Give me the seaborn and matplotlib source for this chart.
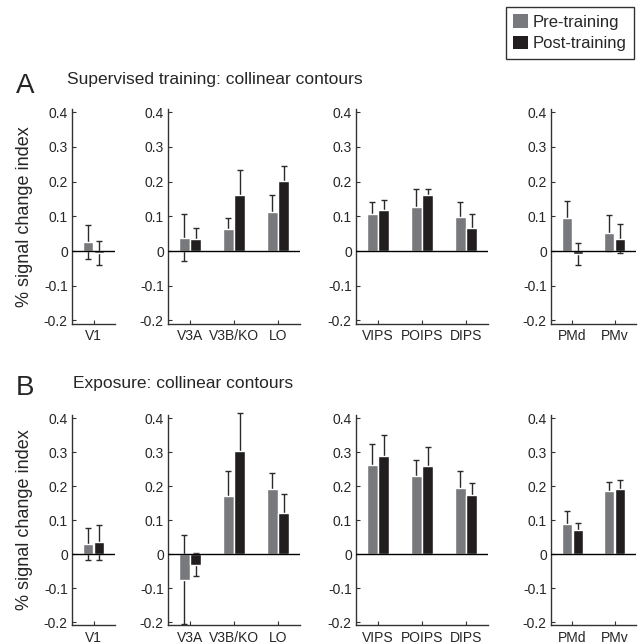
import matplotlib
matplotlib.use('Agg')
import matplotlib.pyplot as plt
from matplotlib.patches import Patch
import pandas as pd
import seaborn as sns


# ==========================================
# DATOS
# ==========================================

rois = ['V1', 'V3A', 'V3B/KO', 'LO', 'VIPS', 'POIPS', 'DIPS', 'PMd', 'PMv']
panel_rois = [['V1'], ['V3A', 'V3B/KO', 'LO'], ['VIPS', 'POIPS', 'DIPS'], ['PMd', 'PMv']]
phases = ['Pre-training', 'Post-training']

sup_pre = [0.027, 0.038, 0.063, 0.111, 0.107, 0.128, 0.098, 0.094, 0.052]
sup_post = [-0.006, 0.036, 0.162, 0.201, 0.117, 0.161, 0.065, -0.008, 0.036]
sup_pre_err = [0.049, 0.068, 0.033, 0.050, 0.035, 0.051, 0.044, 0.050, 0.051]
sup_post_err = [0.034, 0.031, 0.071, 0.045, 0.030, 0.018, 0.041, 0.032, 0.043]

exp_pre = [0.030, -0.075, 0.172, 0.190, 0.262, 0.228, 0.194, 0.089, 0.184]
exp_post = [0.034, -0.031, 0.304, 0.120, 0.289, 0.258, 0.173, 0.070, 0.190]
exp_pre_err = [0.047, 0.131, 0.072, 0.047, 0.063, 0.048, 0.051, 0.037, 0.029]
exp_post_err = [0.051, 0.034, 0.110, 0.056, 0.062, 0.058, 0.037, 0.022, 0.029]

ytick_values = [-0.2, -0.1, 0, 0.1, 0.2, 0.3, 0.4]
ytick_labels = ['-0.2', '-0.1', '0', '0.1', '0.2', '0.3', '0.4']

row_letters = ['A', 'B']
row_titles = ['Supervised training: collinear contours', 'Exposure: collinear contours']
row_means = [(sup_pre, sup_post), (exp_pre, exp_post)]
row_errs = [(sup_pre_err, sup_post_err), (exp_pre_err, exp_post_err)]

colors = ['#78797c', '#221e1f']
spine_color = '#333333'


# ==========================================
# LAYOUT (pixeles de la figura 644x644)
# ==========================================

W = H = 644.0
col_left = [72, 168, 356, 551]
col_width = [43, 132, 132, 85]
row_top = [108.7, 414.6]
row_height = [215.2, 210.8]
letter_base = [93, 395]
title_pos = [(67, 84), (73, 388)]

sns.set_style('ticks')
plt.rcParams['font.family'] = ['Liberation Sans', 'DejaVu Sans']

fig = plt.figure(figsize=(6.44, 6.44), dpi=100)

for r in range(2):
    pre, post = row_means[r]
    pre_err, post_err = row_errs[r]

    for c, names in enumerate(panel_rois):
        ax = fig.add_axes([
            col_left[c] / W,
            1 - (row_top[r] + row_height[r]) / H,
            col_width[c] / W,
            row_height[r] / H
        ])

        idx = [rois.index(n) for n in names]
        df = pd.DataFrame({
            'roi': names * 2,
            'phase': [phases[0]] * len(names) + [phases[1]] * len(names),
            'value': [pre[i] for i in idx] + [post[i] for i in idx],
        })
        errs = {
            phases[0]: [pre_err[i] for i in idx],
            phases[1]: [post_err[i] for i in idx],
        }

        sns.barplot(
            data=df, x='roi', y='value', hue='phase',
            order=names, hue_order=phases, palette=colors,
            width=0.52, gap=0.08, errorbar=None,
            saturation=1, legend=False, ax=ax, zorder=2
        )

        bar_containers = list(ax.containers)
        for k, cont in enumerate(bar_containers):
            for p in cont.patches:
                xc = p.get_x() + p.get_width() / 2
                j = int(round(xc))
                ax.errorbar(
                    xc, p.get_y() + p.get_height(),
                    yerr=errs[phases[k]][j],
                    fmt='none', ecolor='#2a2a2a', elinewidth=1,
                    capsize=2.5, capthick=1, zorder=1, clip_on=False
                )

        ax.axhline(0, color='black', lw=1, zorder=3)
        ax.set_xlim(-0.5, len(names) - 0.5)
        ax.set_ylim(-0.21, 0.41)
        ax.set_yticks(ytick_values)
        ax.set_yticklabels(ytick_labels)
        ax.set_xlabel('')
        ax.set_ylabel('')

        sns.despine(ax=ax)
        for s in ['left', 'bottom']:
            ax.spines[s].set_color(spine_color)
            ax.spines[s].set_linewidth(1)
        ax.tick_params(direction='in', length=3, width=0.8,
                       color=spine_color, labelsize=10, pad=3)
        ax.tick_params(axis='x', pad=4)

        if c == 0:
            ax.set_ylabel('% signal change index', fontsize=13)
            ax.yaxis.set_label_coords(-0.9, 0.5)

    fig.text(16 / W, 1 - letter_base[r] / H, row_letters[r],
             fontsize=20, va='baseline', ha='left')
    fig.text(title_pos[r][0] / W, 1 - title_pos[r][1] / H, row_titles[r],
             fontsize=12.5, va='baseline', ha='left')


# ==========================================
# LEYENDA
# ==========================================

handles = [Patch(facecolor=colors[i], edgecolor='none', label=phases[i]) for i in range(2)]
leg = fig.legend(
    handles=handles, loc='upper right',
    bbox_to_anchor=(634 / W, 1 - 7 / H),
    fontsize=12, frameon=True, fancybox=False,
    handlelength=0.85, handleheight=0.85, handletextpad=0.3,
    borderpad=0.45, labelspacing=0.35, borderaxespad=0
)
leg.get_frame().set_edgecolor('black')
leg.get_frame().set_linewidth(1)

fig.savefig('out.png', dpi=100)
